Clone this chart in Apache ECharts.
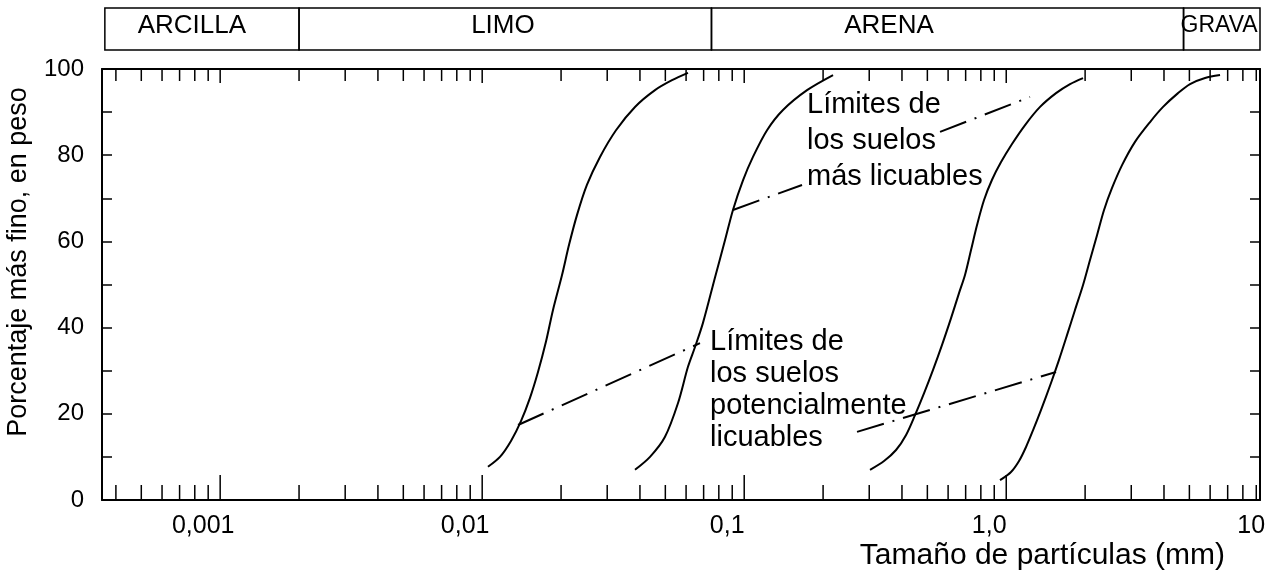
<!DOCTYPE html>
<html><head><meta charset="utf-8">
<script src="https://cdn.jsdelivr.net/npm/echarts@6/dist/echarts.min.js"></script>
<style>html,body{margin:0;padding:0;background:#fff}#c{width:1282px;height:584px}</style>
</head><body><div id="c"></div>
<script>
const FONT = '"Liberation Sans", Arial, Helvetica, sans-serif';

// ---- data (particle size in mm, percent finer by weight) ----
const curve1 = [[0.01052,7.7],[0.01169,10.0],[0.01288,13.7],[0.01406,18.3],[0.01522,23.7],[0.01633,29.7],[0.01751,36.7],[0.01863,44.1],[0.02017,52.2],[0.02145,59.2],[0.02300,66.1],[0.0251,73.1],[0.02816,79.6],[0.03241,85.8],[0.0383,91.2],[0.04566,95.1],[0.05302,97.4],[0.0610,99.1]];
const curve2 = [[0.0383,7.0],[0.0437,10.0],[0.0498,14.6],[0.0559,22.5],[0.0610,30.9],[0.0649,35.5],[0.0696,41.1],[0.0774,51.7],[0.0845,60.3],[0.0906,67.3],[0.0990,74.2],[0.1080,79.6],[0.1222,85.8],[0.1406,90.5],[0.1737,95.1],[0.2183,98.6]];
const curve3 = [[0.3021,7.0],[0.3417,9.05],[0.3797,11.6],[0.4147,15.1],[0.4486,19.7],[0.4858,24.8],[0.5256,30.2],[0.5689,36.0],[0.6157,42.2],[0.6604,48.0],[0.6960,52.2],[0.7339,58.0],[0.7737,63.8],[0.8228,69.6],[0.8826,74.3],[0.9554,78.4],[1.052,82.6],[1.180,87.0],[1.346,91.2],[1.549,94.4],[1.752,96.5],[1.964,97.9]];
const curve4 = [[0.9469,4.6],[1.043,6.5],[1.119,9.05],[1.190,12.3],[1.266,16.2],[1.358,20.9],[1.483,27.2],[1.590,32.5],[1.707,38.3],[1.830,44.1],[1.964,49.9],[2.088,55.7],[2.222,61.5],[2.362,67.3],[2.534,72.4],[2.767,77.7],[3.101,83.1],[3.539,87.7],[3.967,91.2],[4.525,94.4],[5.029,96.5],[5.739,97.9],[6.546,98.6]];

// leader lines (dash-dot)
const leaderA = [[0.01370,17.4],[0.0678,36.4]];
const leaderB = [[0.2695,15.8],[1.549,29.7]];
const leaderC = [[0.0906,67.3],[0.1662,73.1]];
const leaderD = [[0.559,85.4],[1.232,93.5]];

// axes
const XMIN = 0.000354, XMAX = 9.3;
const xTickVals = [0.0004,0.0005,0.0006,0.0007,0.0008,0.0009,0.001,0.002,0.003,0.004,0.005,0.006,0.007,0.008,0.009,0.01,0.02,0.03,0.04,0.05,0.06,0.07,0.08,0.09,0.1,0.2,0.3,0.4,0.5,0.6,0.7,0.8,0.9,1,2,3,4,5,6,7,8,9];
const xTickLabelVals = [0.001, 0.01, 0.1, 1, 10];
const xTickLabels = ['0,001', '0,01', '0,1', '1,0', '10'];

// soil classification band
const bands = ['ARCILLA', 'LIMO', 'ARENA', 'GRAVA'];
const bandEdges = [0.000363, 0.002, 0.075, 4.75, 9.3];
const bandLabelPos = [0.00078, 0.0120, 0.357, 6.49];

const chart = echarts.init(document.getElementById('c'), null, {renderer: 'canvas'});

function isDecade(v) { const l = Math.log10(v); return Math.abs(l - Math.round(l)) < 1e-6; }

const curveStyle = {color: '#000', width: 2};
const dashStyle = {color: '#000', width: 2, type: [28, 9, 2, 9]};
function lineSeries(data, style) {
  return {type: 'line', xAxisIndex: 0, yAxisIndex: 0, data: data, showSymbol: false, symbol: 'none',
          smooth: 0.3, lineStyle: style, silent: true, z: 3, animation: false};
}
function leaderSeries(data) {
  return {type: 'line', xAxisIndex: 0, yAxisIndex: 0, data: data, showSymbol: false, symbol: 'none',
          lineStyle: dashStyle, silent: true, z: 3, animation: false};
}

const axisLineStyle = {color: '#000', width: 2};

const option = {
  backgroundColor: '#fff',
  animation: false,
  grid: [
    {left: 102, right: 22, top: 69, bottom: 84},
    {left: 102, right: 22, top: 8, height: 42}
  ],
  xAxis: [
    {gridIndex: 0, type: 'log', logBase: 10, min: XMIN, max: XMAX, position: 'bottom',
     axisLine: {show: true, onZero: false, lineStyle: axisLineStyle}, axisTick: {show: false},
     axisLabel: {show: false}, splitLine: {show: false}, minorTick: {show: false}},
    {gridIndex: 0, type: 'log', logBase: 10, min: XMIN, max: XMAX, position: 'top',
     axisLine: {show: true, onZero: false, lineStyle: axisLineStyle}, axisTick: {show: false},
     axisLabel: {show: false}, splitLine: {show: false}, minorTick: {show: false}},
    {gridIndex: 1, type: 'log', logBase: 10, min: XMIN, max: XMAX, show: false}
  ],
  yAxis: [
    {gridIndex: 0, type: 'value', min: 0, max: 100, interval: 10, position: 'left',
     axisLine: {show: true, lineStyle: axisLineStyle},
     axisTick: {show: true, inside: true, length: 10, lineStyle: {color: '#000', width: 1.5}},
     axisLabel: {margin: 18, color: '#000', fontSize: 24, fontFamily: FONT,
                 formatter: v => (v % 20 === 0 ? String(v) : '')},
     splitLine: {show: false}},
    {gridIndex: 0, type: 'value', min: 0, max: 100, interval: 10, position: 'right',
     axisLine: {show: true, lineStyle: axisLineStyle},
     axisTick: {show: true, inside: true, length: 10, lineStyle: {color: '#000', width: 1.5}},
     axisLabel: {show: false}, splitLine: {show: false}},
    {gridIndex: 1, type: 'value', min: 0, max: 1, show: false}
  ],
  series: [
    lineSeries(curve1, curveStyle),
    lineSeries(curve2, curveStyle),
    lineSeries(curve3, curveStyle),
    lineSeries(curve4, curveStyle),
    leaderSeries(leaderA),
    leaderSeries(leaderB),
    leaderSeries(leaderC),
    leaderSeries(leaderD),
    // x-axis ticks (bottom and top), drawn on the log scale
    {type: 'custom', xAxisIndex: 0, yAxisIndex: 0, silent: true, z: 5, clip: false,
     data: xTickVals.map(v => [v, 0]),
     renderItem: function (params, api) {
       const v = api.value(0);
       const b = api.coord([v, 0]);
       const t = api.coord([v, 100]);
       const major = isDecade(v);
       return {type: 'group', children: [
         {type: 'line', shape: {x1: b[0], y1: b[1], x2: b[0], y2: b[1] - (major ? 25 : 15)},
          style: {stroke: '#000', lineWidth: 1.5}},
         {type: 'line', shape: {x1: t[0], y1: t[1], x2: t[0], y2: t[1] + (major ? 14 : 12)},
          style: {stroke: '#000', lineWidth: 1.5}}
       ]};
     }},
    // x-axis tick labels
    {type: 'custom', xAxisIndex: 0, yAxisIndex: 0, silent: true, z: 5, clip: false,
     data: xTickLabelVals.map(v => [v, 0]),
     renderItem: function (params, api) {
       const p = api.coord([api.value(0), 0]);
       return {type: 'text', x: p[0] - 17, y: p[1] + 14,
               style: {text: xTickLabels[params.dataIndex], font: '25px ' + FONT, fill: '#000',
                       align: 'center', verticalAlign: 'top', textAlign: 'center', textVerticalAlign: 'top'}};
     }},
    // classification band
    {type: 'custom', xAxisIndex: 2, yAxisIndex: 2, silent: true, z: 5, clip: false,
     data: bands.map((b, i) => [bandEdges[i], bandEdges[i + 1], bandLabelPos[i]]),
     renderItem: function (params, api) {
       const a = api.coord([api.value(0), 1]);
       const c = api.coord([api.value(1), 0]);
       const m = api.coord([api.value(2), 0.5]);
       const name = bands[params.dataIndex];
       const fs = name === 'GRAVA' ? 23 : 26;
       return {type: 'group', children: [
         {type: 'rect', shape: {x: a[0], y: a[1], width: c[0] - a[0], height: c[1] - a[1]},
          style: {fill: 'none', stroke: '#000', lineWidth: 1.5}},
         {type: 'text', x: m[0], y: m[1] - 3,
          style: {text: name, font: fs + 'px ' + FONT, fill: '#000',
                  align: 'center', verticalAlign: 'middle', textAlign: 'center', textVerticalAlign: 'middle'}}
       ]};
     }}
  ],
  graphic: [
    {type: 'text', x: 19, y: 262, rotation: Math.PI / 2, silent: true,
     style: {text: 'Porcentaje más fino, en peso', font: '27px ' + FONT, fill: '#000',
             align: 'center', verticalAlign: 'middle', textAlign: 'center', textVerticalAlign: 'middle'}},
    {type: 'text', x: 1225, y: 556, silent: true,
     style: {text: 'Tamaño de partículas (mm)', font: '30px ' + FONT, fill: '#000',
             align: 'right', verticalAlign: 'middle', textAlign: 'right', textVerticalAlign: 'middle'}},
    {type: 'text', x: 807, y: 87, silent: true,
     style: {text: 'Límites de\nlos suelos\nmás licuables', font: '29px ' + FONT, lineHeight: 36, fill: '#000',
             align: 'left', verticalAlign: 'top', textAlign: 'left', textVerticalAlign: 'top'}},
    {type: 'text', x: 710, y: 326, silent: true,
     style: {text: 'Límites de\nlos suelos\npotencialmente\nlicuables', font: '29px ' + FONT, lineHeight: 32, fill: '#000',
             align: 'left', verticalAlign: 'top', textAlign: 'left', textVerticalAlign: 'top'}}
  ]
};
chart.setOption(option);
</script>
</body></html>
